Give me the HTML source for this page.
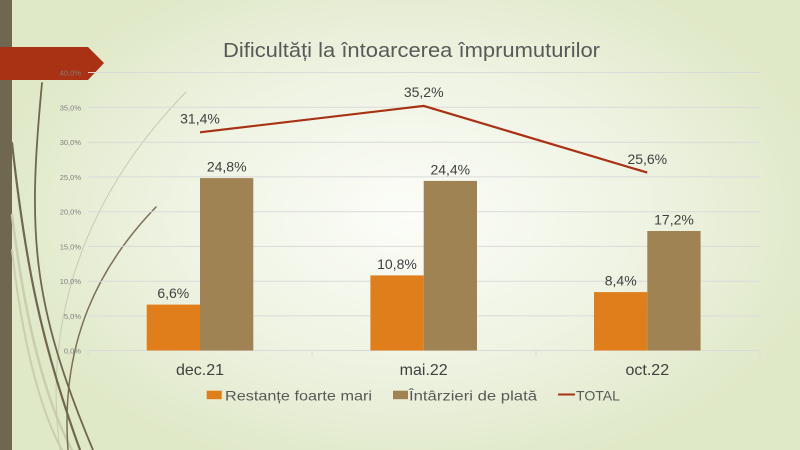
<!DOCTYPE html>
<html><head><meta charset="utf-8"><style>
html,body{margin:0;padding:0;}
body{width:800px;height:450px;overflow:hidden;background:radial-gradient(ellipse 430px 270px at 410px 215px,#fcfdf9 0%,#eef3e2 55%,#dfe8c7 100%);font-family:"Liberation Sans",sans-serif;}
svg{position:absolute;left:0;top:0;}
</style></head><body>
<svg width="800" height="450" viewBox="0 0 800 450" xmlns="http://www.w3.org/2000/svg" font-family="Liberation Sans, sans-serif">
<!-- left decoration -->
<rect x="0" y="0" width="12" height="450" fill="#6f6750"/>
<g fill="none" stroke-linecap="round">
<path d="M12,215 C25,320 45,400 72,450" stroke="#cbcdaf" stroke-width="2.5"/>
<path d="M12,250 C22,340 40,410 62,450" stroke="#cbcdaf" stroke-width="2"/>
<path d="M186,92 C100,180 40,300 60,450" stroke="#cac9b2" stroke-width="1"/>
<path d="M156,207 C100,265 60,340 68,450" stroke="#7a6f55" stroke-width="1.5"/>
<path d="M42,83 C28,230 30,300 93,450" stroke="#6f6750" stroke-width="1.8"/>
<path d="M12,143 C25,260 40,340 80,450" stroke="#6f6750" stroke-width="2.2"/>
</g>
<polygon points="0,47 88,47 104,63 88,80 0,80" fill="#a83213"/>

<!-- gridlines -->
<g stroke="#dadada" stroke-width="1">
<line x1="88" y1="72.5" x2="760" y2="72.5"/>
<line x1="88" y1="107.3" x2="760" y2="107.3"/>
<line x1="88" y1="142.2" x2="760" y2="142.2"/>
<line x1="88" y1="176.9" x2="760" y2="176.9"/>
<line x1="88" y1="211.7" x2="760" y2="211.7"/>
<line x1="88" y1="246.4" x2="760" y2="246.4"/>
<line x1="88" y1="281.2" x2="760" y2="281.2"/>
<line x1="88" y1="315.9" x2="760" y2="315.9"/>
<line x1="88" y1="350.5" x2="760" y2="350.5"/>
<line x1="88" y1="350.5" x2="88" y2="356"/>
<line x1="312" y1="350.5" x2="312" y2="356"/>
<line x1="536" y1="350.5" x2="536" y2="356"/>
<line x1="760" y1="350.5" x2="760" y2="356"/>
</g>
<!-- y-axis labels -->
<g font-size="7.5" fill="#808080" text-anchor="end">
<text x="81" y="75.5">40,0%</text>
<text x="81" y="110.3">35,0%</text>
<text x="81" y="145.2">30,0%</text>
<text x="81" y="179.9">25,0%</text>
<text x="81" y="214.7">20,0%</text>
<text x="81" y="249.4">15,0%</text>
<text x="81" y="284.2">10,0%</text>
<text x="81" y="318.9">5,0%</text>
<text x="81" y="353.5">0,0%</text>
</g>

<!-- bars -->
<g>
<rect x="146.7" y="304.6" width="53.3" height="45.9" fill="#df7e1b"/>
<rect x="200" y="178.1" width="53.3" height="172.4" fill="#a08352"/>
<rect x="370.4" y="275.4" width="53.3" height="75.1" fill="#df7e1b"/>
<rect x="423.7" y="180.9" width="53.3" height="169.6" fill="#a08352"/>
<rect x="594" y="292.1" width="53.3" height="58.4" fill="#df7e1b"/>
<rect x="647.3" y="231" width="53.3" height="119.5" fill="#a08352"/>
</g>

<!-- line -->
<polyline points="200,132.3 423.7,105.9 647.3,172.6" fill="none" stroke="#a83213" stroke-width="2.2"/>

<!-- data labels -->
<g font-size="14" fill="#404040" text-anchor="middle">
<text x="173.3" y="298">6,6%</text>
<text x="226.7" y="171.6">24,8%</text>
<text x="397" y="269">10,8%</text>
<text x="450.3" y="174.4">24,4%</text>
<text x="620.7" y="285.6">8,4%</text>
<text x="674" y="224.5">17,2%</text>
<text x="200" y="123.5">31,4%</text>
<text x="423.7" y="97">35,2%</text>
<text x="647.3" y="164">25,6%</text>
</g>

<!-- category labels -->
<g font-size="16" fill="#404040" text-anchor="middle">
<text x="200" y="375">dec.21</text>
<text x="423.7" y="375">mai.22</text>
<text x="647.3" y="375">oct.22</text>
</g>

<!-- title -->
<text x="223" y="57" font-size="20" fill="#595959" textLength="377" lengthAdjust="spacingAndGlyphs">Dificultăți la întoarcerea împrumuturilor</text>

<!-- legend -->
<rect x="206.7" y="390.7" width="15" height="8.5" fill="#df7e1b"/>
<text x="225" y="400.5" font-size="14" fill="#595959" textLength="147" lengthAdjust="spacingAndGlyphs">Restanțe foarte mari</text>
<rect x="393" y="390.7" width="15" height="8.5" fill="#a08352"/>
<text x="409" y="400.5" font-size="14" fill="#595959" textLength="128" lengthAdjust="spacingAndGlyphs">Întârzieri de plată</text>
<line x1="558" y1="394.5" x2="575" y2="394.5" stroke="#a83213" stroke-width="2"/>
<text x="576" y="400.5" font-size="14" fill="#595959" textLength="44" lengthAdjust="spacingAndGlyphs">TOTAL</text>
</svg>
</body></html>
